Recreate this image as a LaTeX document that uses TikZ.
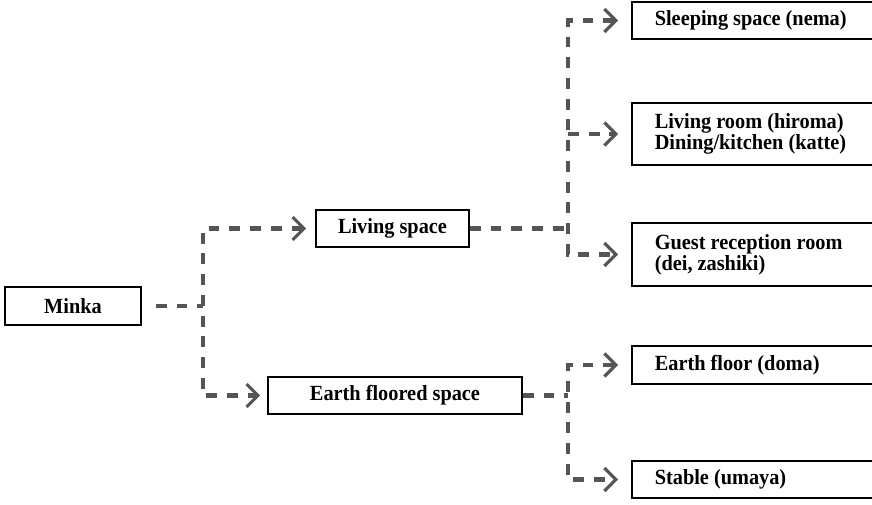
\documentclass[tikz,border=0pt]{standalone}
\usepackage{fontspec}
\setmainfont{Liberation Serif}[FakeStretch=0.94]
\usepackage{tikz}
\usetikzlibrary{arrows.meta}
\definecolor{linkgray}{RGB}{85, 85, 85}

\tikzset{
  box/.style={draw=black, line width=0.9pt, font=\fontsize{12.3}{11.8}\selectfont\bfseries, inner sep=0pt},
  leftbox/.style={box, anchor=west, align=flush left, text width=4.6cm, inner xsep=0.46cm},
  chev/.tip={Straight Barb[length=6.5pt, width=13pt, line width=1.8pt]},
  link/.style={draw=linkgray, line width=2.3pt, dash pattern=on 6.2pt off 5.6pt, arrows={chev-chev}},
}

\begin{document}
\begin{tikzpicture}[x=0.02cm, y=-0.02cm]
\clip (0,0) rectangle (872,504);

% First level
\node[box, minimum width=2.72cm, minimum height=0.76cm] (minka) at (73,306) {Minka};

% Second level
\node[box, minimum width=3.06cm, minimum height=0.74cm] (living) at (392.5,228.5) {Living space};
\node[box, minimum width=5.08cm, minimum height=0.74cm] (earth) at (395,395.5) {Earth floored space};

% Third level
\node[leftbox, minimum height=0.74cm] (sleeping) at (631,20.5) {Sleeping space (nema)};
\node[leftbox, minimum height=1.24cm] (hiroma) at (631,134) {Living room (hiroma)\\Dining/kitchen (katte)};
\node[leftbox, minimum height=1.26cm] (guest) at (631,254.5) {Guest reception room\\(dei, zashiki)};
\node[leftbox, minimum height=0.76cm] (doma) at (631,365) {Earth floor (doma)};
\node[leftbox, minimum height=0.74cm] (umaya) at (631,479.5) {Stable (umaya)};

% Junctions
\coordinate (splitA) at (203,306);
\coordinate (splitB) at (568,228.5);
\coordinate (splitC) at (568,395.5);

% Connectors
\draw[link, arrows=-, shorten <=0.28cm] (minka) -- (splitA);
\draw[link, arrows={chev-chev}, shorten <=0.18cm, shorten >=0.14cm] (living) -| (splitA) |- (earth);

\draw[link, arrows=-] (living) -- (splitB);
\draw[link, arrows={chev-chev}, shorten <=0.26cm, shorten >=0.26cm] (sleeping) -| (splitB) |- (guest);
\draw[link, arrows={-chev}, shorten >=0.26cm] (splitB |- hiroma.west) -- (hiroma);

\draw[link, arrows=-] (earth) -- (splitC);
\draw[link, arrows={chev-chev}, shorten <=0.26cm, shorten >=0.26cm] (doma) -| (splitC) |- (umaya);
\end{tikzpicture}
\end{document}
